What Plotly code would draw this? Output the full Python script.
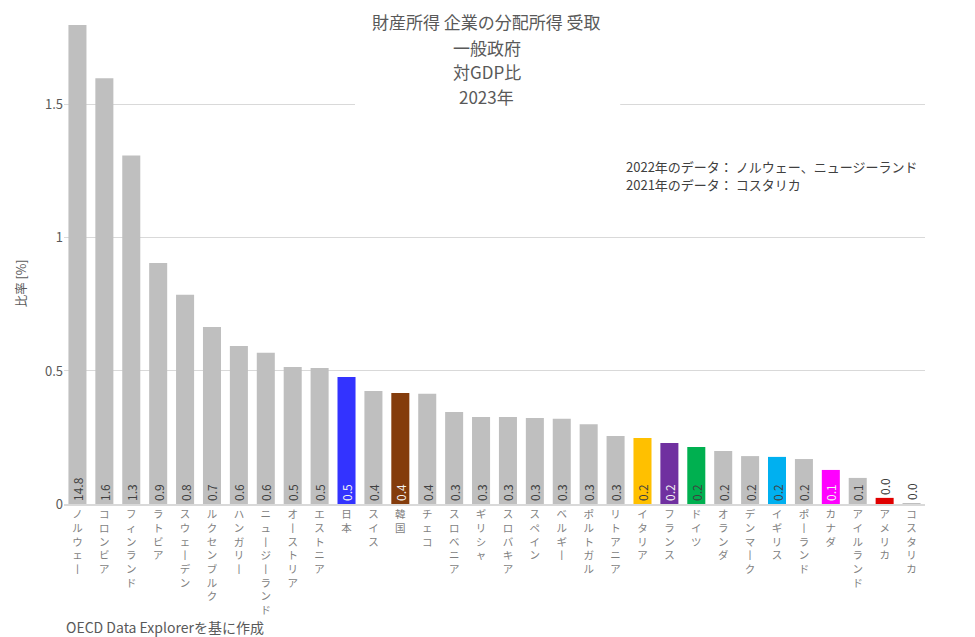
import plotly.graph_objects as go

countries = ["ノルウェー", "コロンビア", "フィンランド", "ラトビア", "スウェーデン", "ルクセンブルク",
             "ハンガリー", "ニュージーランド", "オーストリア", "エストニア", "日本", "スイス", "韓国",
             "チェコ", "スロベニア", "ギリシャ", "スロバキア", "スペイン", "ベルギー", "ポルトガル",
             "リトアニア", "イタリア", "フランス", "ドイツ", "オランダ", "デンマーク", "イギリス",
             "ポーランド", "カナダ", "アイルランド", "アメリカ", "コスタリカ"]
values = [14.8, 1.60, 1.31, 0.906, 0.786, 0.665, 0.594, 0.568, 0.515, 0.511, 0.477, 0.425, 0.417,
          0.414, 0.346, 0.327, 0.327, 0.323, 0.320, 0.300, 0.256, 0.248, 0.229, 0.214, 0.199,
          0.180, 0.177, 0.169, 0.128, 0.098, 0.023, 0.003]

highlight_colors = {"日本": "#3333ff", "韓国": "#843c0c", "イタリア": "#ffc000", "フランス": "#7030a0",
                    "ドイツ": "#00b050", "イギリス": "#00b0f0", "カナダ": "#ff00ff", "アメリカ": "#e00000"}
light_text = {"日本", "韓国", "フランス", "カナダ"}
outside = {"アメリカ", "コスタリカ"}

title_lines = ["財産所得 企業の分配所得 受取", "一般政府", "対GDP比", "2023年"]
note_lines = ["2022年のデータ： ノルウェー、ニュージーランド", "2021年のデータ： コスタリカ"]
source_text = "OECD Data Explorerを基に作成"
y_title = "比率 [%]"
y_tickvals = [0, 0.5, 1, 1.5]
y_ticktext = ["0", "0.5", "1", "1.5"]

FONT = "Noto Sans CJK JP"
GRAY = "#595959"

bar_colors = [highlight_colors.get(c, "#bfbfbf") for c in countries]
text_colors = ["#f2f2f2" if c in light_text else "#404040" for c in countries]
text_pos = ["outside" if c in outside else "inside" for c in countries]
labels = [f"{v:.1f}" for v in values]


def vertical(s):
    return "<br>".join("丨" if ch == "ー" else ch for ch in s)


tick_text = [vertical(c) for c in countries]

fig = go.Figure()
fig.add_trace(go.Bar(
    x=countries, y=values, marker_color=bar_colors, marker_line_width=0,
    text=labels, textposition=text_pos, insidetextanchor="start", textangle=-90,
    textfont=dict(family=FONT, size=12, color=text_colors),
    outsidetextfont=dict(family=FONT, size=12, color="#404040"),
    cliponaxis=True, constraintext="none",
))

# the page adds an 8px body margin, so the figure is 8px smaller and margins shifted
fig.update_layout(
    width=967, height=629,
    margin=dict(l=56, r=50, t=17, b=133, autoexpand=False),
    paper_bgcolor="white", plot_bgcolor="white",
    bargap=0.33, showlegend=False,
    font=dict(family=FONT, color=GRAY),
)
fig.update_xaxes(
    tickmode="array", tickvals=countries, ticktext=tick_text, tickangle=0,
    tickfont=dict(family=FONT, size=10.5, color="#7f7f7f"),
    showline=True, linecolor="#d9d9d9", linewidth=1.5, ticks="", showgrid=False,
    automargin=False,
)
fig.update_yaxes(
    range=[0, 1.8], tickvals=y_tickvals, ticktext=y_ticktext,
    tickfont=dict(family=FONT, size=13, color=GRAY),
    showgrid=True, gridcolor="#d9d9d9", gridwidth=1, zeroline=False,
    ticks="", automargin=False,
)

# white box behind the title (hides the gridline)
fig.add_shape(type="rect", xref="paper", yref="paper", x0=0.338, x1=0.646, y0=0.815, y1=1.04,
              fillcolor="white", line_width=0, layer="above")

title_y = [1.0063, 0.954, 0.9019, 0.8497]
for line, yy in zip(title_lines, title_y):
    fig.add_annotation(
        xref="paper", yref="paper", x=0.491, y=yy, yanchor="middle", xanchor="center",
        text=line, showarrow=False, borderpad=0, font=dict(family=FONT, size=17, color=GRAY),
    )

note_y = [0.7056, 0.666]
for line, yy in zip(note_lines, note_y):
    fig.add_annotation(
        xref="paper", yref="paper", x=0.6516, y=yy, xanchor="left", yanchor="middle",
        text=line, showarrow=False, align="left", borderpad=0,
        font=dict(family=FONT, size=13, color="#404040"),
    )

fig.add_annotation(
    xref="paper", yref="paper", x=0.001, y=-0.257, xanchor="left", yanchor="middle",
    text=source_text, showarrow=False, align="left", borderpad=0,
    font=dict(family=FONT, size=14, color=GRAY),
)
fig.add_annotation(
    xref="paper", yref="paper", x=-0.051, y=0.461, xanchor="center", yanchor="middle",
    text=y_title, textangle=-90, showarrow=False,
    font=dict(family=FONT, size=12.5, color=GRAY),
)

fig.write_html("out.html")
